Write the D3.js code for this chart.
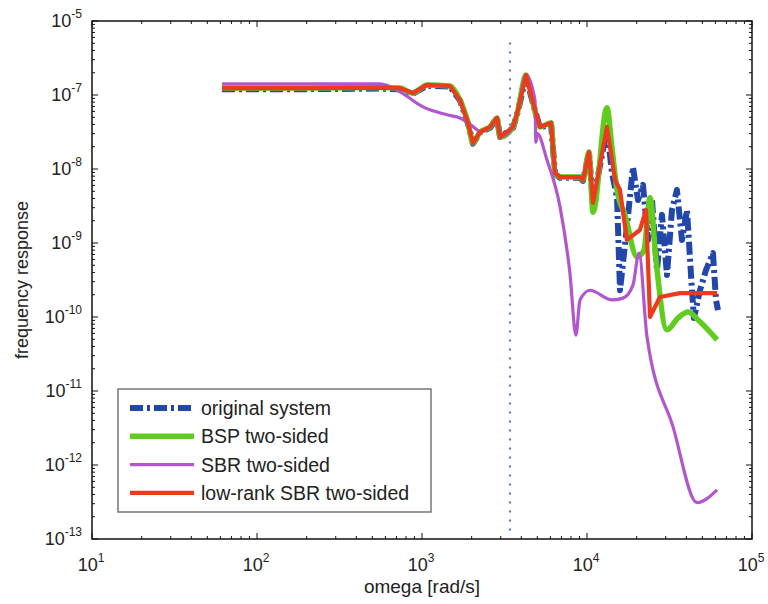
<!DOCTYPE html>
<html lang="en">
<head>
<meta charset="UTF-8">
<title>frequency response</title>
<script src="https://cdnjs.cloudflare.com/ajax/libs/d3/7.8.5/d3.min.js"></script>
<style>
  body { margin: 0; background: #fff; }
  text { font-family: "Liberation Sans", Arial, sans-serif; fill: #222; }
</style>
</head>
<body>
<svg id="chart" width="768" height="604"></svg>
<script>
// omega [rad/s] , magnitude
const origOmega = [61.4, 200, 556, 736, 881, 1072, 1479, 1700, 1901, 2037, 2248, 2583, 2850, 2973, 3565, 3821, 4267, 4709, 5190, 6053, 6400, 6860, 9070, 9460, 10280, 10870, 13210, 14180, 15210, 15850, 17220, 18990, 20370, 21830, 23440, 24770, 26550, 28480, 30530, 32730, 35080, 37640, 40360, 43270, 44480, 48400, 52610, 58000, 60500, 62200];
const origMag = [1.2e-7, 1.2e-7, 1.22e-7, 1.2e-7, 1.04e-7, 1.33e-7, 1.3e-7, 8.4e-8, 4.1e-8, 2.2e-8, 3.1e-8, 3.6e-8, 4.8e-8, 2.7e-8, 3.6e-8, 6.1e-8, 1.8e-7, 7.6e-8, 3.6e-8, 4.1e-8, 8.6e-9, 7.6e-9, 7.6e-9, 6.9e-9, 1.65e-8, 3.4e-9, 3.6e-8, 8.8e-9, 4.1e-9, 2.3e-10, 1.24e-9, 1.06e-8, 3.8e-9, 6.1e-9, 1.1e-9, 3.8e-9, 4.3e-10, 2.4e-9, 3.7e-10, 2.8e-9, 5.2e-9, 1.1e-9, 2.8e-9, 2.3e-10, 9.7e-11, 2.3e-10, 4.3e-10, 7.3e-10, 1.7e-10, 1.24e-10];

const bspOmega = [61.4, 200, 556, 736, 881, 1072, 1479, 1700, 1901, 2037, 2248, 2583, 2850, 2973, 3565, 3821, 4267, 4709, 5190, 6053, 6400, 6860, 9070, 9460, 10280, 10870, 13210, 14180, 15210, 16990, 20080, 22140, 24100, 26190, 30530, 35620, 40930, 48400, 61400];
const bspMag = [1.24e-7, 1.24e-7, 1.26e-7, 1.24e-7, 1.06e-7, 1.37e-7, 1.32e-7, 8.5e-8, 4.2e-8, 2.25e-8, 3.16e-8, 3.7e-8, 4.9e-8, 2.7e-8, 3.7e-8, 6.3e-8, 1.86e-7, 7.8e-8, 3.7e-8, 4.2e-8, 8.8e-9, 7.8e-9, 7.8e-9, 7.1e-9, 1.7e-8, 2.6e-9, 6.7e-8, 1.9e-8, 5.2e-9, 2.4e-9, 6.5e-10, 8.0e-10, 4.1e-9, 5.9e-10, 6.7e-11, 9.7e-11, 1.17e-10, 8.6e-11, 4.9e-11];

const sbrOmega = [61.4, 200, 556, 736, 1014, 1418, 1700, 2154, 2248, 2583, 2850, 2973, 3565, 3821, 4267, 4841, 4900, 5000, 5723, 6860, 7880, 8570, 9070, 10430, 14180, 16530, 18990, 20650, 23100, 33190, 46410, 61400];
const sbrMag = [1.41e-7, 1.41e-7, 1.41e-7, 1.1e-7, 6.9e-8, 5.4e-8, 4.9e-8, 3.4e-8, 3.16e-8, 3.7e-8, 4.9e-8, 2.7e-8, 3.7e-8, 6.3e-8, 1.86e-7, 8.5e-8, 2.3e-8, 3.0e-8, 1.32e-8, 3.1e-9, 3.9e-10, 5.7e-11, 1.7e-10, 2.3e-10, 1.7e-10, 1.8e-10, 2.7e-10, 7.3e-10, 5.4e-11, 3.3e-12, 3.1e-13, 4.6e-13];

const lrOmega = [61.4, 200, 556, 736, 881, 1072, 1479, 1700, 1901, 2037, 2248, 2583, 2850, 2973, 3565, 3821, 4267, 4709, 5190, 6053, 6400, 6860, 9070, 9460, 10280, 10870, 13210, 14790, 15850, 17460, 20940, 22780, 24100, 27680, 36610, 61400];
const lrMag = [1.24e-7, 1.24e-7, 1.26e-7, 1.24e-7, 1.06e-7, 1.37e-7, 1.32e-7, 8.5e-8, 4.2e-8, 2.25e-8, 3.16e-8, 3.7e-8, 4.9e-8, 2.7e-8, 3.7e-8, 6.3e-8, 1.86e-7, 7.8e-8, 3.7e-8, 4.2e-8, 8.8e-9, 7.8e-9, 7.8e-9, 7.1e-9, 1.7e-8, 3.5e-9, 3.7e-8, 7.1e-9, 5.2e-9, 1.1e-9, 1.5e-9, 2.8e-9, 1.0e-10, 1.86e-10, 2.1e-10, 2.1e-10];

const markerOmega = 3415;
const markerRange = [1.3e-13, 6.1e-7];

const xTickExps = [1, 2, 3, 4, 5];
const yTickExps = [-13, -12, -11, -10, -9, -8, -7, -6];
const yTickLabels = ["-13", "-12", "-11", "-10", "-9", "-8", "-7", "-5"];

const seriesNames = ["original system", "BSP two-sided", "SBR two-sided", "low-rank SBR two-sided"];

var svg = d3.select("#chart");
var mLeft = 92, mRight = 752, mTop = 21, mBottom = 539;

var x = d3.scaleLog().domain([1e1, 1e5]).range([mLeft, mRight]);
var y = d3.scaleLog().domain([1e-13, 1e-6]).range([mBottom, mTop]);

var styles = [
    {color: "#2347a8", width: 6, dash: "13,4,3,4", curve: d3.curveLinear},
    {color: "#5fcc1e", width: 5.5, dash: null, curve: d3.curveMonotoneX},
    {color: "#b256cc", width: 3.2, dash: null, curve: d3.curveMonotoneX},
    {color: "#ec3a1c", width: 4.2, dash: null, curve: d3.curveLinear}
];
var series = [
    d3.zip(origOmega, origMag),
    d3.zip(bspOmega, bspMag),
    d3.zip(sbrOmega, sbrMag),
    d3.zip(lrOmega, lrMag)
];

svg.append("clipPath").attr("id", "clip")
    .append("rect").attr("x", mLeft).attr("y", mTop)
    .attr("width", mRight - mLeft).attr("height", mBottom - mTop);

var plot = svg.append("g").attr("clip-path", "url(#clip)");

// dotted marker line
plot.append("line")
    .attr("x1", x(markerOmega)).attr("x2", x(markerOmega))
    .attr("y1", y(markerRange[0])).attr("y2", y(markerRange[1]))
    .attr("stroke", "#5d78b8")
    .attr("stroke-width", 2.2)
    .attr("stroke-dasharray", "2,7");

series.forEach(function(d, i) {
    var line = d3.line()
        .x(function(p) { return x(p[0]); })
        .y(function(p) { return y(p[1]); })
        .curve(styles[i].curve);
    plot.append("path")
        .datum(d)
        .attr("d", line)
        .attr("fill", "none")
        .attr("stroke", styles[i].color)
        .attr("stroke-width", styles[i].width)
        .attr("stroke-linejoin", "round")
        .attr("stroke-dasharray", styles[i].dash);
});

// frame
svg.append("rect")
    .attr("x", mLeft).attr("y", mTop)
    .attr("width", mRight - mLeft).attr("height", mBottom - mTop)
    .attr("fill", "none").attr("stroke", "#111").attr("stroke-width", 1.5);

// ticks
var ticks = svg.append("g").attr("stroke", "#111").attr("stroke-width", 1);
xTickExps.forEach(function(e, i) {
    var major = x(Math.pow(10, e));
    ticks.append("line").attr("x1", major).attr("x2", major).attr("y1", mBottom).attr("y2", mBottom - 6);
    ticks.append("line").attr("x1", major).attr("x2", major).attr("y1", mTop).attr("y2", mTop + 6);
    if (i < xTickExps.length - 1) {
        for (var m = 2; m < 10; m++) {
            var xm = x(m * Math.pow(10, e));
            ticks.append("line").attr("x1", xm).attr("x2", xm).attr("y1", mBottom).attr("y2", mBottom - 3);
            ticks.append("line").attr("x1", xm).attr("x2", xm).attr("y1", mTop).attr("y2", mTop + 3);
        }
    }
});
yTickExps.forEach(function(e, i) {
    var major = y(Math.pow(10, e));
    ticks.append("line").attr("x1", mLeft).attr("x2", mLeft + 6).attr("y1", major).attr("y2", major);
    ticks.append("line").attr("x1", mRight).attr("x2", mRight - 6).attr("y1", major).attr("y2", major);
    if (i < yTickExps.length - 1) {
        for (var m = 2; m < 10; m++) {
            var ym = y(m * Math.pow(10, e));
            ticks.append("line").attr("x1", mLeft).attr("x2", mLeft + 3).attr("y1", ym).attr("y2", ym);
            ticks.append("line").attr("x1", mRight).attr("x2", mRight - 3).attr("y1", ym).attr("y2", ym);
        }
    }
});

// tick labels
xTickExps.forEach(function(e) {
    var t = svg.append("text")
        .attr("x", x(Math.pow(10, e)) - 1)
        .attr("y", mBottom + 32)
        .attr("text-anchor", "middle")
        .attr("font-size", 18);
    t.append("tspan").text("10");
    t.append("tspan").attr("dy", -9).attr("font-size", 12).text(e);
});
yTickExps.forEach(function(e, i) {
    var t = svg.append("text")
        .attr("x", mLeft - 10)
        .attr("y", y(Math.pow(10, e)) + 6)
        .attr("text-anchor", "end")
        .attr("font-size", 18);
    t.append("tspan").text("10");
    t.append("tspan").attr("dy", -9).attr("font-size", 12).text(yTickLabels[i]);
});

// axis titles
svg.append("text")
    .attr("x", (mLeft + mRight) / 2)
    .attr("y", 593)
    .attr("text-anchor", "middle")
    .attr("font-size", 19)
    .text("omega [rad/s]");
svg.append("text")
    .attr("transform", "translate(28," + ((mTop + mBottom) / 2) + ") rotate(-90)")
    .attr("text-anchor", "middle")
    .attr("font-size", 18)
    .text("frequency response");

// legend
var legend = svg.append("g").attr("transform", "translate(118,389)");
legend.append("rect")
    .attr("width", 313).attr("height", 123)
    .attr("fill", "#fff").attr("stroke", "#777").attr("stroke-width", 1.5);
seriesNames.forEach(function(name, i) {
    var ly = 19 + i * 28.3;
    legend.append("line")
        .attr("x1", 12).attr("x2", 76)
        .attr("y1", ly).attr("y2", ly)
        .attr("stroke", styles[i].color)
        .attr("stroke-width", styles[i].width)
        .attr("stroke-dasharray", styles[i].dash);
    legend.append("text")
        .attr("x", 83).attr("y", ly + 7)
        .attr("font-size", 19.5)
        .text(name);
});
</script>
</body>
</html>
